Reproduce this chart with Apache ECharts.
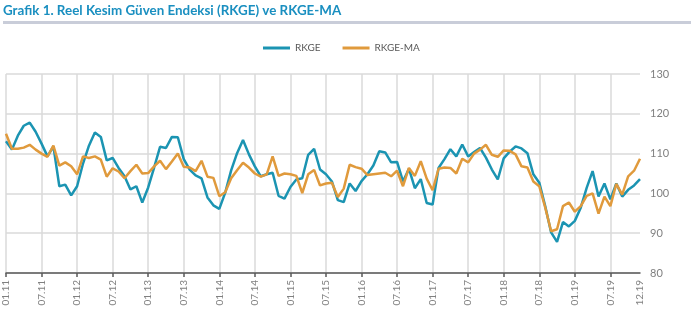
<!DOCTYPE html>
<html><head><meta charset="utf-8">
<script src="https://cdn.jsdelivr.net/npm/echarts@6/dist/echarts.min.js"></script>
<style>html,body{margin:0;padding:0;background:#fff}#c{width:691px;height:332px}</style>
</head><body><div id="c"></div>
<script>
const startYear = 2011, months = 108;
const categories = [];
for (let i = 0; i < months; i++) {
  const m = (i % 12) + 1, y = startYear + Math.floor(i / 12);
  categories.push(String(m).padStart(2, '0') + '.' + String(y % 100).padStart(2, '0'));
}
const rkge = [113.1,111,114.5,117,117.8,115.5,112.5,109.3,111.8,101.8,102.2,99.5,
  101.8,107.5,112,115.3,114.2,108.3,108.9,106.4,104.3,101,101.8,97.7,
  101.5,106.5,111.7,111.4,114.2,114.1,108.6,106,104.5,103.8,99,97,
  96.1,100.2,105.8,110.1,113.4,109.8,106.8,104.3,104.8,105.2,99.4,98.7,
  101.6,103.5,103.8,109.7,111.2,106,104.8,103,98.3,97.8,102.5,100.6,
  103.1,104.8,107,110.6,110.3,107.8,107.9,103,106.2,101.3,103.6,97.6,
  97.2,106.4,108.6,111.1,109.3,112.3,109.3,110.4,111.4,109,106,103.5,
  108.8,110.5,111.8,111.3,110.1,104.8,102.7,96.8,90.2,87.8,92.8,91.7,
  93.1,96.4,101.4,105.6,99.2,102.5,98.5,102.5,99.2,100.9,102,103.6];
const rkgeMA = [115,111.2,111.2,111.5,112.2,111,110,109.2,112,107,107.8,106.8,
  104.8,109.3,108.9,109.3,108.5,104.2,106.3,105.5,103.8,105.6,107.2,105,
  105.1,106.8,108.2,106.1,108,110,106.7,106.5,105.6,108.2,104.2,103.9,
  99.3,100.3,103.8,105.8,107.7,106.5,105,104.2,104.8,109.3,104.4,105,
  104.8,104.4,100.1,104.8,105.9,102,102.5,102.7,99.1,101.2,107.2,106.6,
  106.2,104.6,104.8,105,105.2,104.3,105.7,101.8,106.4,104.4,108.1,103.7,
  100.8,106.2,106.5,106.4,105,108.7,107.8,110,111,112.2,109.7,109.2,
  110.8,110.7,109.8,106.8,106.5,103,101.8,96.5,90.5,91,96.8,97.7,
  95.4,96.8,99.4,100,94.9,99.2,96.8,102.4,99.7,104.3,105.7,108.7];
const yTicks = [80, 90, 100, 110, 120, 130];

const chart = echarts.init(document.getElementById('c'), null, {renderer: 'canvas'});
const font = 'Lato, "Open Sans", sans-serif';
const isMajor = (i) => i % 6 === 0;
chart.setOption({
  animation: false,
  textStyle: {fontFamily: font},
  graphic: [
    {type: 'text', left: 3, top: 4, style: {text: 'Grafik 1. Reel Kesim Güven Endeksi (RKGE) ve RKGE-MA', fill: '#1a8fc0', font: 'bold 13.4px ' + font}},
    {type: 'rect', left: 3, top: 21, shape: {width: 688, height: 3}, style: {fill: '#c9cdd9'}}
  ],
  legend: {
    top: 43, left: 263, padding: 0, itemWidth: 27, itemHeight: 3, itemGap: 22, icon: 'rect',
    textStyle: {color: '#595959', fontSize: 10, fontFamily: font},
    data: ['RKGE', 'RKGE-MA']
  },
  grid: {left: 6, right: 51, top: 74, bottom: 59, containLabel: false},
  xAxis: {
    type: 'category', data: categories, boundaryGap: false,
    axisLine: {lineStyle: {color: '#595959', width: 1.5}},
    axisTick: {length: 4, interval: (i) => isMajor(i), lineStyle: {color: '#595959', width: 1.5}},
    axisLabel: {rotate: 90, interval: (i) => isMajor(i) || i === months - 1, color: '#808080', fontSize: 10, margin: 7, fontFamily: font},
    splitLine: {show: true, interval: (i) => isMajor(i), lineStyle: {color: '#dadada', width: 1.5}}
  },
  yAxis: {
    type: 'value', position: 'right', min: yTicks[0], max: yTicks[yTicks.length - 1], interval: 10,
    axisLine: {show: false}, axisTick: {show: false},
    axisLabel: {color: '#808080', fontSize: 11, margin: 10, fontFamily: font},
    splitLine: {lineStyle: {color: '#dadada', width: 1.5}}
  },
  series: [
    {name: 'RKGE', type: 'line', data: rkge, symbol: 'none', lineStyle: {color: '#1b94b2', width: 2.5}, itemStyle: {color: '#1b94b2'}},
    {name: 'RKGE-MA', type: 'line', data: rkgeMA, symbol: 'none', lineStyle: {color: '#e09a3c', width: 2.5}, itemStyle: {color: '#e09a3c'}}
  ]
});
</script></body></html>
